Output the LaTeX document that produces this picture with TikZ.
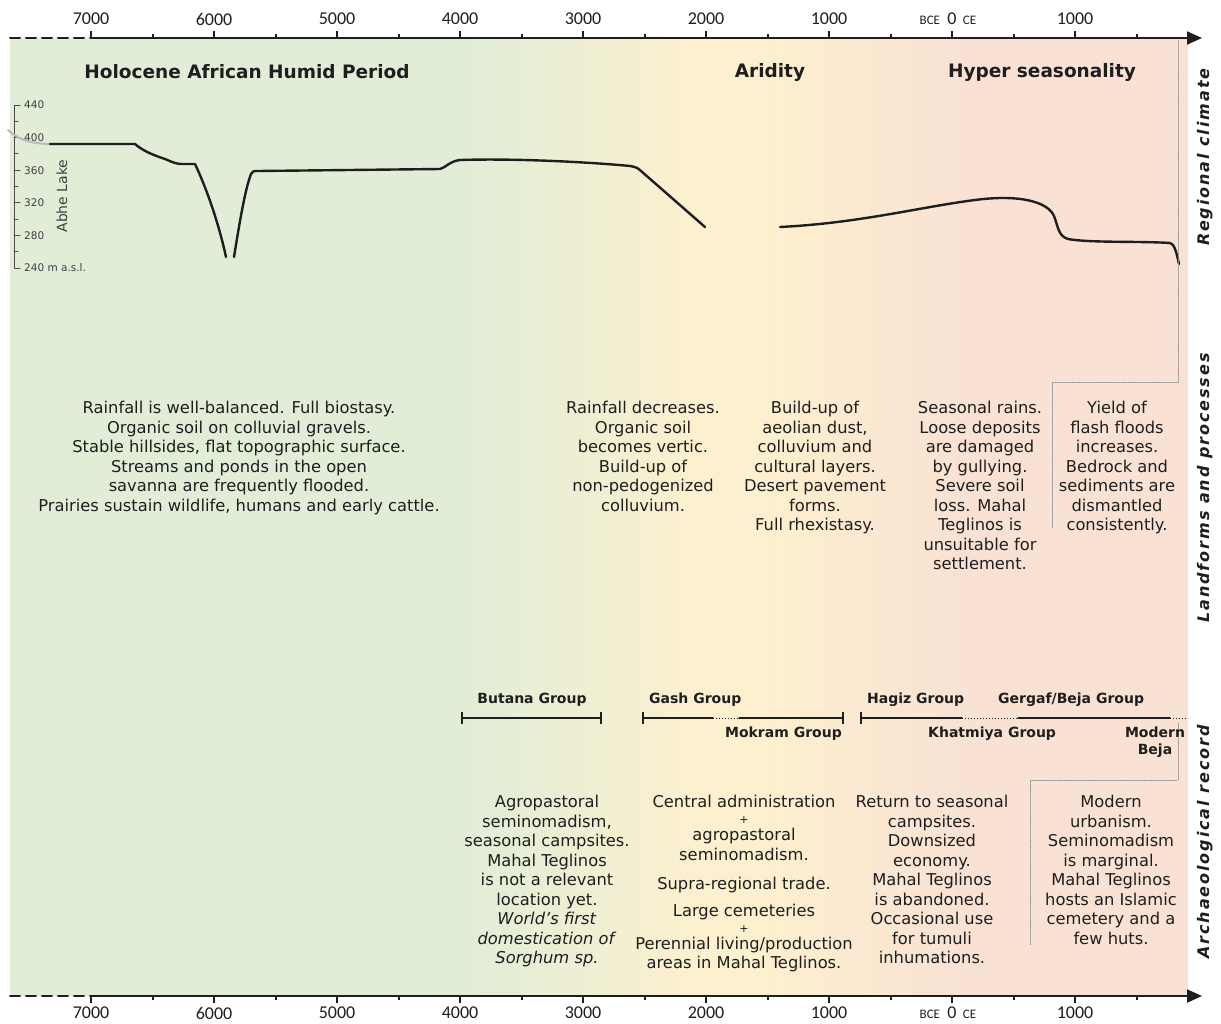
\documentclass[tikz,border=0pt]{standalone}
\usepackage{fontspec}
\setmainfont{DejaVu Sans}
\newfontfamily\axisfont{Carlito}
\newfontfamily\sidefont[LetterSpace=12]{DejaVu Sans}
\usetikzlibrary{arrows.meta,positioning}
\definecolor{humid}{RGB}{226,237,216}
\definecolor{arid}{RGB}{253,240,206}
\definecolor{hyper}{RGB}{249,226,212}
\definecolor{ink}{RGB}{30,30,30}
\definecolor{guidegray}{RGB}{150,150,150}
\begin{document}
\begin{tikzpicture}[x=1pt,y=-1pt,line join=round,line cap=round,>=Stealth]
\tikzset{
  blk/.style={align=center,anchor=north,inner sep=0pt,text=ink,font=\fontsize{16.3}{19.5}\selectfont},
  head/.style={inner sep=0pt,text=ink,font=\fontsize{18.5}{21}\selectfont\bfseries},
  grp/.style={inner sep=0pt,text=ink,font=\fontsize{14}{17}\selectfont\bfseries},
  yr/.style={inner sep=0pt,text=ink,font=\axisfont\fontsize{18}{20}\selectfont},
  era/.style={inner sep=0pt,text=ink,font=\axisfont\fontsize{13}{14}\selectfont},
  side/.style={rotate=90,inner sep=0pt,text=ink,font=\sidefont\fontsize{16}{18}\selectfont\bfseries\itshape},
  axisline/.style={line width=2pt,ink},
  lake/.style={line width=2.4pt,ink},
  bar/.style={line width=1.5pt,ink},
  guide/.style={guidegray,densely dotted,line width=0.7pt},
  mlabel/.style={inner sep=0pt,anchor=west,text=ink!85,font=\fontsize{10.5}{11}\selectfont},
}
\useasboundingbox (0,0) rectangle (1221,1023);
% background bands
\fill[humid] (10,38) rectangle (472,996);
\shade[left color=humid,right color=arid] (470,38) rectangle (702,996);
\fill[arid] (700,38) rectangle (762,996);
\shade[left color=arid,right color=hyper] (760,38) rectangle (962,996);
\fill[hyper] (960,38) rectangle (1188,996);
% time axes
\foreach \ya/\nm in {38/top,996/bot}{
  \coordinate (\nm L) at (10,\ya);
  \coordinate (\nm S) at (91,\ya);
  \coordinate (\nm E) at (1202,\ya);
  \draw[axisline,dash pattern=on 10pt off 6pt] (\nm L) -- (\nm S);
  \draw[axisline,-{Triangle[length=15pt,width=13pt]}] (\nm S) -- (\nm E);
}
\foreach \k in {0,...,17}{
  \pgfmathsetmacro\tx{91+\k*61.5}
  \pgfmathsetmacro\tl{isodd(\k) ? 4 : 7}
  \draw[axisline,line cap=butt] (\tx,38) -- ++(0,-\tl);
  \draw[axisline,line cap=butt] (\tx,996) -- ++(0,\tl);
}
\foreach \k/\lab in {0/7000,2/6000,4/5000,6/4000,8/3000,10/2000,12/1000,16/1000}{
  \node[yr] (ytop\k) at (91+\k*61.5,19) {\lab};
  \node[yr] (ybot\k) at (91+\k*61.5,1013) {\lab};
}
\foreach \nm/\yy in {top/19,bot/1013}{
  \node[yr] (zero\nm) at (952,\yy) {0};
  \node[era,anchor=base east] (bce\nm) at ([xshift=-7pt]zero\nm.base west) {BCE};
  \node[era,anchor=base west] (ce\nm) at ([xshift=6pt]zero\nm.base east) {CE};
}
% Abhe Lake scale
\draw[line width=1pt,ink!80] (20,105) -- (14,105) -- (14,268) -- (20,268);
\foreach \v in {420,400,...,260}{
  \pgfmathsetmacro\ty{105+(440-\v)*0.815}
  \pgfmathsetmacro\tl{mod(\v,40)==0 ? 6 : 4}
  \draw[line width=1pt,ink!80] (14,\ty) -- ++(\tl,0);
}
\foreach \v in {440,400,360,320,280}{
  \node[mlabel] (lv\v) at (24,{105+(440-\v)*0.815}) {\v};
}
\node[mlabel] (lv240) at (24,268) {240 m a.s.l.};
\node[rotate=90,inner sep=0pt,text=ink!85,font=\fontsize{14}{16}\selectfont] (abhe) at (62,196) {Abhe Lake};
% lake level curve
\draw[lake,gray!55,line width=2pt] (8,130) .. controls (16,138) and (30,144) .. (50,144);
\draw[lake] (50,144) -- (135,144) .. controls (142,150) and (150,154) .. (165,159)
  .. controls (172,162) and (176,164) .. (182,164) -- (195,164)
  .. controls (205,185) and (218,220) .. (226,257);
\draw[lake] (234,257) .. controls (240,220) and (245,190) .. (251,174)
  .. controls (252,171) and (254,171) .. (258,171) -- (440,169)
  .. controls (445,168) and (450,161) .. (460,160)
  .. controls (520,158) and (600,163) .. (630,166)
  .. controls (636,167) and (638,168) .. (641,171) -- (705,227);
\draw[lake] (780,227) .. controls (860,223) and (920,207) .. (975,200)
  .. controls (1020,194) and (1048,202) .. (1054,216)
  .. controls (1058,226) and (1058,236) .. (1068,239)
  .. controls (1090,243) and (1140,241) .. (1170,243)
  .. controls (1174,244) and (1176,250) .. (1179,264);
% headings
\node[head] (hahp) at (247,72) {Holocene African Humid Period};
\node[head] (aridity) at (770,72) {Aridity};
\node[head] (hyperseas) at (1042,72) {Hyper seasonality};
% side labels
\node[side] (climate) at (1205,157) {Regional climate};
\node[side] (landforms) at (1205,488) {Landforms and processes};
\node[side] (archaeo) at (1205,842) {Archaeological record};
% guides
\coordinate (gA) at (1178,40);
\coordinate (gB) at (1178,382);
\coordinate (gC) at (1052,382);
\coordinate (gD) at (1052,528);
\draw[guide] (gA) -- (gB) -- (gC) -- (gD);
\coordinate (gE) at (1178,723);
\coordinate (gF) at (1178,780);
\coordinate (gG) at (1030,780);
\coordinate (gH) at (1030,945);
\draw[guide] (gE) -- (gF) -- (gG) -- (gH);
% landforms and processes
\node[blk] (landHumid) at (239,401) {Rainfall is well-balanced. Full biostasy.\\Organic soil on colluvial gravels.\\Stable hillsides, flat topographic surface.\\Streams and ponds in the open\\savanna are frequently flooded.\\Prairies sustain wildlife, humans and early cattle.};
\node[blk] (landDry) at (643,401) {Rainfall decreases.\\Organic soil\\becomes vertic.\\Build-up of\\non-pedogenized\\colluvium.};
\node[blk] (landArid) at (815,401) {Build-up of\\aeolian dust,\\colluvium and\\cultural layers.\\Desert pavement\\forms.\\Full rhexistasy.};
\node[blk] (landSeason) at (980,401) {Seasonal rains.\\Loose deposits\\are damaged\\by gullying.\\Severe soil\\loss. Mahal\\Teglinos is\\unsuitable for\\settlement.};
\node[blk] (landFlood) at (1117,401) {Yield of\\flash floods\\increases.\\Bedrock and\\sediments are\\dismantled\\consistently.};
% cultural groups
\coordinate (butA) at (462,718);
\coordinate (butB) at (601,718);
\draw[bar] (butA) -- (butB);
\coordinate (gasA) at (643,718);
\coordinate (gasB) at (713,718);
\coordinate (gasC) at (739,718);
\coordinate (gasD) at (843,718);
\draw[bar] (gasA) -- (gasB);
\draw[bar,line width=1pt,dotted,line cap=butt] (gasB) -- (gasC);
\draw[bar] (gasC) -- (gasD);
\coordinate (hagA) at (861,718);
\coordinate (hagB) at (962,718);
\coordinate (hagC) at (1018,718);
\coordinate (hagD) at (1170,718);
\coordinate (hagE) at (1188,718);
\draw[bar] (hagA) -- (hagB);
\draw[bar,line width=1pt,dotted,line cap=butt] (hagB) -- (hagC);
\draw[bar] (hagC) -- (hagD);
\draw[bar,line width=1pt,dotted,line cap=butt] (hagD) -- (hagE);
\foreach \c in {butA,butB,gasA,gasD,hagA}{
  \draw[bar,line cap=butt] ([yshift=-6pt]\c) -- ([yshift=6pt]\c);
}
\node[grp] (butana) at (532,700) {Butana Group};
\node[grp,anchor=west] (gash) at (649,700) {Gash Group};
\node[grp,anchor=east] (mokram) at (842,734) {Mokram Group};
\node[grp,anchor=west] (hagiz) at (867,700) {Hagiz Group};
\node[grp,anchor=west] (gergaf) at (998,700) {Gergaf/Beja Group};
\node[grp,anchor=west] (khatmiya) at (928,734) {Khatmiya Group};
\node[grp,align=center,anchor=north,font=\fontsize{14}{17}\selectfont\bfseries] (modbeja) at (1155,727) {Modern\\Beja};
% archaeological record
\node[blk] (archButana) at (547,795) {Agropastoral\\seminomadism,\\seasonal campsites.\\Mahal Teglinos\\is not a relevant\\location yet.\\\textit{World’s first}\\\textit{domestication of}\\\textit{Sorghum sp.}};
\node[blk] (archGash) at (744,795) {Central administration\\[-3.5pt]{\fontsize{11}{12}\selectfont +}\\[-2.5pt]agropastoral\\seminomadism.\\[9.5pt]Supra-regional trade.\\[7.5pt]Large cemeteries\\[-3.5pt]{\fontsize{11}{12}\selectfont +}\\[-2.5pt]Perennial living/production\\areas in Mahal Teglinos.};
\node[blk] (archHagiz) at (932,795) {Return to seasonal\\campsites.\\Downsized\\economy.\\Mahal Teglinos\\is abandoned.\\Occasional use\\for tumuli\\inhumations.};
\node[blk] (archModern) at (1111,795) {Modern\\urbanism.\\Seminomadism\\is marginal.\\Mahal Teglinos\\hosts an Islamic\\cemetery and a\\few huts.};
\end{tikzpicture}
\end{document}
